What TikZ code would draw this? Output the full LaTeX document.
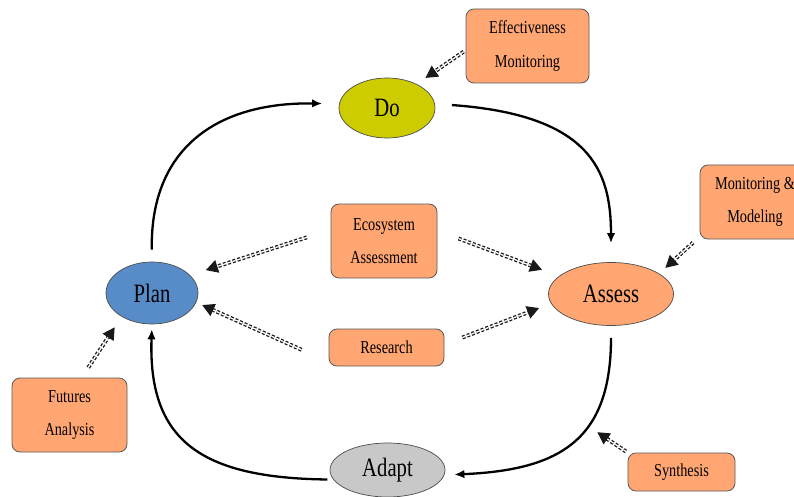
\documentclass[tikz,border=0pt]{standalone}
\usepackage{fontspec}
\setmainfont{Liberation Serif}[FakeStretch=0.78]
\usetikzlibrary{shapes.geometric,arrows.meta}
\definecolor{salmon}{RGB}{255,166,114}
\definecolor{doyellow}{RGB}{204,204,0}
\definecolor{planblue}{RGB}{88,140,200}
\definecolor{adaptgray}{RGB}{200,200,200}
\tikzset{
  ell/.style={ellipse, draw=black!70, line width=0.7pt, inner sep=0pt, text=black,
    font=\fontsize{26.5}{30}\selectfont},
  box/.style={rectangle, rounded corners=8pt, draw=black!65, fill=salmon, line width=0.8pt,
    inner sep=0pt, align=center, text=black, font=\fontsize{18.3}{33.5}\selectfont},
  flow/.style={draw=black, line width=2.3pt, -{Latex[length=10pt,width=8.5pt]}},
  dflow/.style={draw=black!90, line width=1.3pt, double=white, double distance=1.3pt,
    dash pattern=on 3pt off 2pt, -{Triangle[length=12pt,width=13pt]}}
}
\begin{document}
\begin{tikzpicture}[x=1pt,y=-1pt]
\useasboundingbox (0,0) rectangle (794,497);
% cycle nodes
\node[ell, fill=doyellow, minimum width=96pt, minimum height=60pt] (Do) at (387,108) {Do};
\node[ell, fill=planblue, minimum width=92pt, minimum height=62pt] (Plan) at (152,293) {Plan};
\node[ell, fill=salmon, minimum width=125pt, minimum height=63pt] (Assess) at (611,294) {Assess};
\node[ell, fill=adaptgray, minimum width=115pt, minimum height=54pt] (Adapt) at (387.5,470) {Adapt};
% boxes
\node[box, minimum width=123pt, minimum height=74pt] (Eff) at (527.5,46) {Effectiveness\\Monitoring};
\node[box, minimum width=110pt, minimum height=74pt] (Mon) at (755,202) {Monitoring \&\\Modeling};
\node[box, minimum width=106pt, minimum height=74pt] (Eco) at (384,241) {Ecosystem\\Assessment};
\node[box, minimum width=115pt, minimum height=37pt] (Res) at (386.5,347.5) {Research};
\node[box, minimum width=115pt, minimum height=74pt] (Fut) at (69.5,415) {Futures\\Analysis};
\node[box, minimum width=107pt, minimum height=38pt] (Syn) at (681.5,472) {Synthesis};
\coordinate (SynTarget) at (594,430);
% cycle arrows
\draw[flow, shorten <=12pt, shorten >=17pt] (Plan.north) .. controls (150,150) and (215,102) .. (Do.175);
\draw[flow, shorten <=17pt, shorten >=19pt] (Do.5) .. controls (590,115) and (611,170) .. (Assess.north);
\draw[flow, shorten <=12pt, shorten >=10pt] (Assess.south) .. controls (611,440) and (560,470) .. (Adapt.-5);
\draw[flow, shorten <=6pt, shorten >=5pt] (Adapt.190) .. controls (200,478) and (148,440) .. (Plan.south);
% dashed input arrows
\draw[dflow, shorten <=2.4pt, shorten >=10.8pt] (Eff.184.4) -- (Do.39.6);
\draw[dflow, shorten <=25pt, shorten >=16.5pt] (Eco.168.8) -- (Plan.25.8);
\draw[dflow, shorten <=22.5pt, shorten >=18.2pt] (Eco.11.7) -- (Assess.161.4);
\draw[dflow, shorten <=29.6pt, shorten >=6.6pt] (Res.194.3) -- (Plan.-12);
\draw[dflow, shorten <=19.2pt, shorten >=12.8pt] (Res.3.8) -- (Assess.189);
\draw[dflow, shorten <=8.9pt, shorten >=8.4pt] (Mon.212) -- (Assess.23);
\draw[dflow, shorten <=12pt, shorten >=12.7pt] (Fut.72.2) -- (Plan.218);
\draw[dflow, shorten <=2pt, shorten >=4pt] (Syn.north west) -- (SynTarget);
\end{tikzpicture}
\end{document}
